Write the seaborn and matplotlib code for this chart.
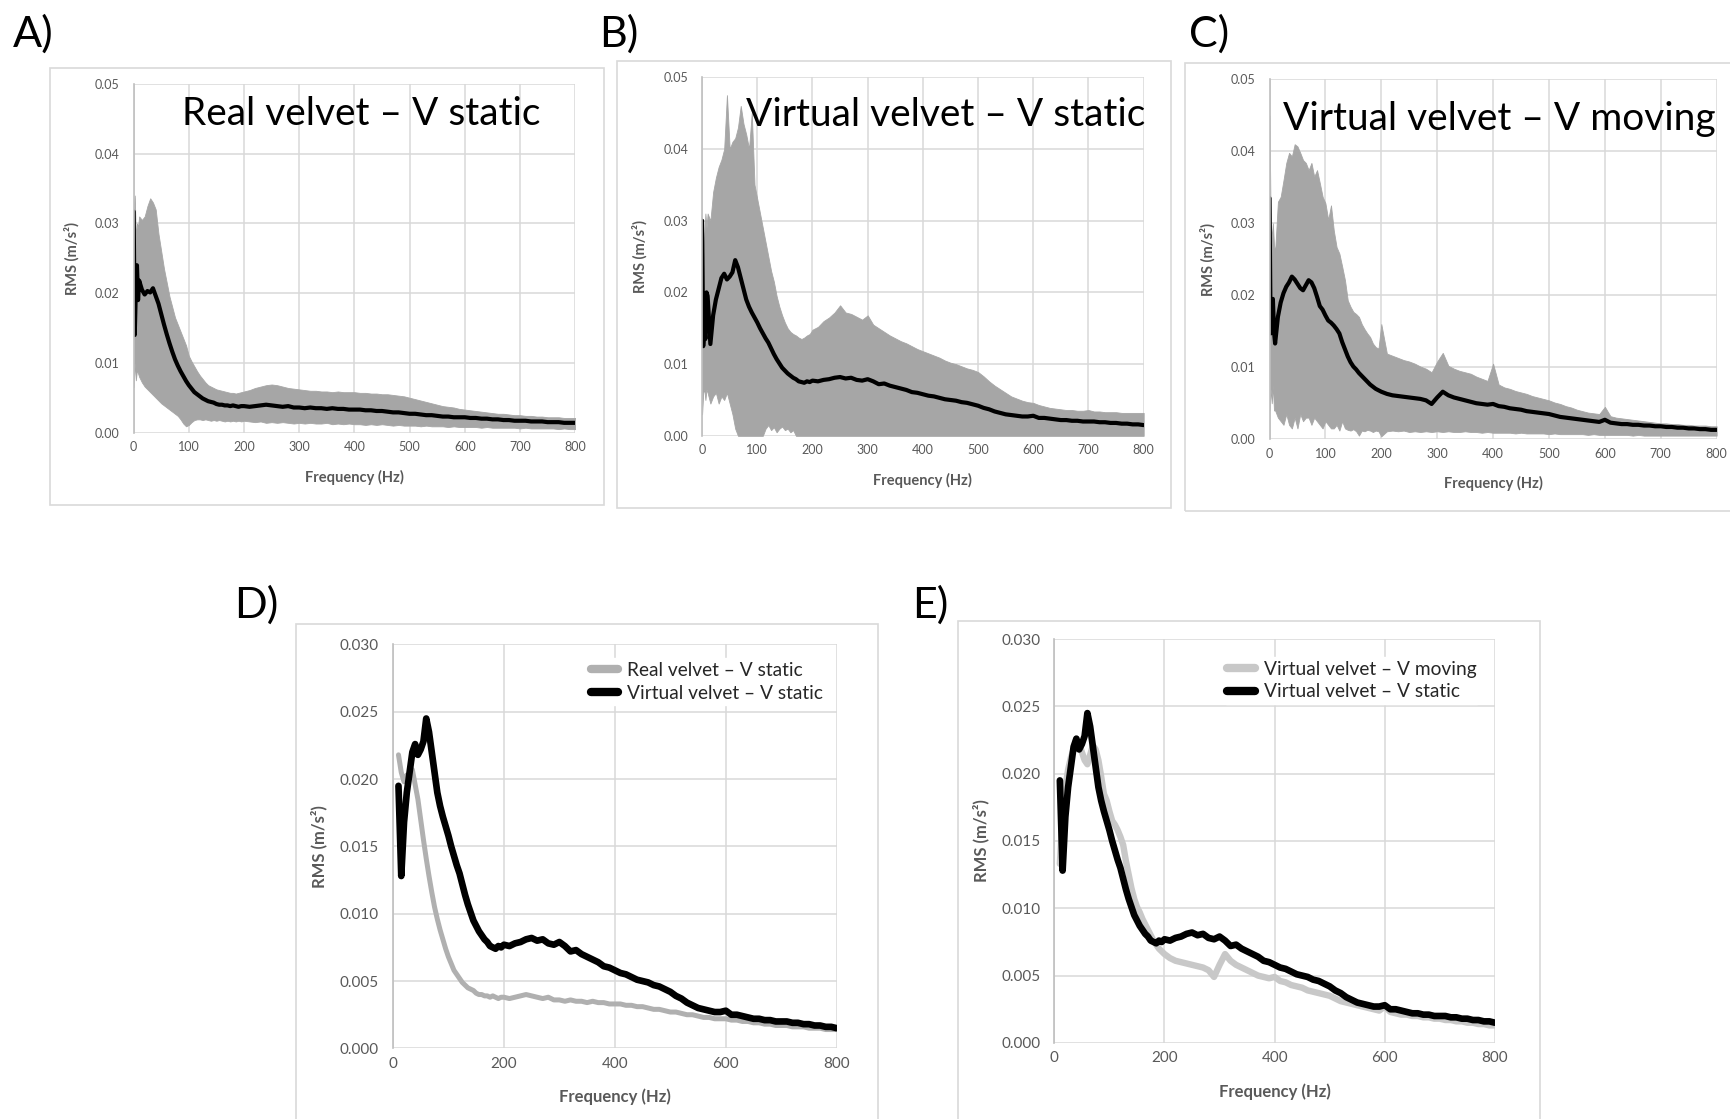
import numpy as np
import matplotlib
matplotlib.use("Agg")
import matplotlib.pyplot as plt
from matplotlib.patches import Rectangle
import seaborn as sns

# frequency grid (Hz): finer near 0
freq = np.concatenate([np.arange(0, 10, 2), np.arange(10, 200, 5), np.arange(200, 801, 10)])

# A) real velvet - V static: min / max band and mean
a_mean = [0.0317, 0.0140, 0.0205, 0.0240, 0.0190,
          0.0218, 0.0205, 0.0198, 0.0203, 0.0201, 0.0207, 0.0196, 0.0185, 0.0170, 0.0155,
          0.0141, 0.0128, 0.0116, 0.0105, 0.0096, 0.0088, 0.0081, 0.0074, 0.0068, 0.0063,
          0.0058, 0.0055, 0.0052, 0.0049, 0.0047, 0.0045, 0.0044, 0.0043, 0.0041, 0.0040,
          0.0040, 0.0039, 0.0039, 0.0038, 0.0039, 0.0038, 0.0037, 0.0038,
          0.0038, 0.0037, 0.0038, 0.0039, 0.0040, 0.0039, 0.0038, 0.0037, 0.0038, 0.0036,
          0.0036, 0.0035, 0.0036, 0.0035, 0.0035, 0.0034, 0.0035, 0.0034, 0.0034, 0.0033,
          0.0033, 0.0033, 0.0032, 0.0032, 0.0031, 0.0031, 0.0030, 0.0029, 0.0029, 0.0028,
          0.0027, 0.0027, 0.0026, 0.0025, 0.0025, 0.0024, 0.0023, 0.0023, 0.0022, 0.0022,
          0.0022, 0.0021, 0.0021, 0.0020, 0.0020, 0.0019, 0.0019, 0.0018, 0.0018, 0.0017,
          0.0017, 0.0017, 0.0016, 0.0016, 0.0016, 0.0015, 0.0015, 0.0015, 0.0014, 0.0014,
          0.0014]
a_hi = [0.0320, 0.0340, 0.0280, 0.0300, 0.0295,
        0.0310, 0.0305, 0.0310, 0.0325, 0.0336, 0.0330, 0.0320, 0.0285, 0.0260, 0.0235,
        0.0215, 0.0195, 0.0180, 0.0165, 0.0155, 0.0145, 0.0135, 0.0125, 0.0110, 0.0102,
        0.0095, 0.0088, 0.0082, 0.0077, 0.0072, 0.0068, 0.0066, 0.0064, 0.0062, 0.0061,
        0.0060, 0.0059, 0.0058, 0.0057, 0.0057, 0.0056, 0.0057, 0.0058,
        0.0059, 0.0061, 0.0064, 0.0066, 0.0068, 0.0069, 0.0068, 0.0066, 0.0064, 0.0063,
        0.0062, 0.0061, 0.0060, 0.0060, 0.0059, 0.0059, 0.0058, 0.0059, 0.0058, 0.0058,
        0.0058, 0.0057, 0.0057, 0.0056, 0.0056, 0.0055, 0.0055, 0.0054, 0.0053, 0.0052,
        0.0050, 0.0048, 0.0046, 0.0044, 0.0042, 0.0040, 0.0038, 0.0037, 0.0036, 0.0034,
        0.0033, 0.0032, 0.0031, 0.0030, 0.0029, 0.0028, 0.0027, 0.0027, 0.0026, 0.0025,
        0.0025, 0.0024, 0.0024, 0.0023, 0.0023, 0.0022, 0.0022, 0.0022, 0.0021, 0.0021,
        0.0021]
a_lo = [0.0065, 0.0100, 0.0075, 0.0090, 0.0085,
        0.0080, 0.0072, 0.0066, 0.0062, 0.0058, 0.0054, 0.0050, 0.0046, 0.0042, 0.0039,
        0.0036, 0.0033, 0.0030, 0.0027, 0.0024, 0.0019, 0.0013, 0.0009, 0.0011, 0.0015,
        0.0018, 0.0019, 0.0019, 0.0018, 0.0019, 0.0018, 0.0017, 0.0018, 0.0017, 0.0018,
        0.0017, 0.0016, 0.0017, 0.0016, 0.0017, 0.0016, 0.0017, 0.0016,
        0.0017, 0.0016, 0.0015, 0.0016, 0.0014, 0.0015, 0.0014, 0.0015, 0.0014, 0.0013,
        0.0014, 0.0013, 0.0014, 0.0013, 0.0013, 0.0014, 0.0012, 0.0013, 0.0012, 0.0013,
        0.0012, 0.0012, 0.0011, 0.0012, 0.0011, 0.0012, 0.0011, 0.0010, 0.0011, 0.0010,
        0.0010, 0.0010, 0.0009, 0.0010, 0.0009, 0.0009, 0.0009, 0.0008, 0.0009, 0.0008,
        0.0008, 0.0008, 0.0008, 0.0007, 0.0008, 0.0007, 0.0007, 0.0007, 0.0007, 0.0007,
        0.0006, 0.0007, 0.0006, 0.0006, 0.0006, 0.0006, 0.0006, 0.0005, 0.0006, 0.0005,
        0.0005]

# B) virtual velvet - V static
b_mean = [0.0300, 0.0125, 0.0150, 0.0135, 0.0200,
          0.0195, 0.0128, 0.0168, 0.0190, 0.0205, 0.0220, 0.0226, 0.0218, 0.0222, 0.0228,
          0.0245, 0.0235, 0.0220, 0.0205, 0.0190, 0.0180, 0.0172, 0.0165, 0.0158, 0.0150,
          0.0143, 0.0136, 0.0130, 0.0122, 0.0114, 0.0107, 0.0101, 0.0095, 0.0091, 0.0087,
          0.0084, 0.0081, 0.0079, 0.0076, 0.0075, 0.0074, 0.0076, 0.0075,
          0.0077, 0.0076, 0.0078, 0.0079, 0.0081, 0.0082, 0.0080, 0.0081, 0.0078, 0.0077,
          0.0079, 0.0076, 0.0072, 0.0073, 0.0070, 0.0068, 0.0066, 0.0064, 0.0061, 0.0060,
          0.0058, 0.0056, 0.0055, 0.0053, 0.0051, 0.0050, 0.0049, 0.0047, 0.0046, 0.0044,
          0.0042, 0.0039, 0.0037, 0.0034, 0.0032, 0.0030, 0.0029, 0.0028, 0.0027, 0.0027,
          0.0028, 0.0025, 0.0025, 0.0024, 0.0023, 0.0022, 0.0022, 0.0021, 0.0021, 0.0020,
          0.0020, 0.0020, 0.0019, 0.0019, 0.0018, 0.0018, 0.0017, 0.0017, 0.0016, 0.0016,
          0.0015]
b_hi = [0.0300, 0.0240, 0.0280, 0.0310, 0.0290,
        0.0310, 0.0300, 0.0340, 0.0360, 0.0375, 0.0385, 0.0400, 0.0475, 0.0400, 0.0410,
        0.0415, 0.0430, 0.0460, 0.0435, 0.0420, 0.0400, 0.0450, 0.0350, 0.0330, 0.0310,
        0.0290, 0.0270, 0.0250, 0.0230, 0.0215, 0.0195, 0.0180, 0.0168, 0.0158, 0.0150,
        0.0145, 0.0142, 0.0140, 0.0137, 0.0135, 0.0137, 0.0140, 0.0142,
        0.0148, 0.0152, 0.0160, 0.0165, 0.0172, 0.0182, 0.0172, 0.0170, 0.0166, 0.0162,
        0.0168, 0.0155, 0.0150, 0.0145, 0.0140, 0.0136, 0.0132, 0.0129, 0.0125, 0.0121,
        0.0118, 0.0115, 0.0112, 0.0109, 0.0105, 0.0102, 0.0100, 0.0097, 0.0094, 0.0092,
        0.0089, 0.0083, 0.0076, 0.0070, 0.0065, 0.0060, 0.0055, 0.0052, 0.0049, 0.0047,
        0.0046, 0.0043, 0.0041, 0.0039, 0.0038, 0.0037, 0.0036, 0.0036, 0.0035, 0.0035,
        0.0036, 0.0034, 0.0034, 0.0033, 0.0033, 0.0033, 0.0032, 0.0032, 0.0032, 0.0032,
        0.0032]
b_lo = [0.0030, 0.0060, 0.0065, 0.0050, 0.0065,
        0.0060, 0.0045, 0.0055, 0.0060, 0.0045, 0.0055, 0.0050, 0.0060, 0.0045, 0.0030,
        0.0010, 0.0000, 0.0000, 0.0000, 0.0000, 0.0000, 0.0000, 0.0000, 0.0000, 0.0000,
        0.0000, 0.0010, 0.0015, 0.0008, 0.0012, 0.0005, 0.0010, 0.0013, 0.0008, 0.0010,
        0.0005, 0.0008, 0.0000, 0.0000, 0.0000, 0.0000, 0.0000, 0.0000,
        0.0000, 0.0000, 0.0000, 0.0000, 0.0000, 0.0000, 0.0000, 0.0000, 0.0000, 0.0000,
        0.0000, 0.0000, 0.0000, 0.0000, 0.0000, 0.0000, 0.0000, 0.0000, 0.0000, 0.0000,
        0.0000, 0.0000, 0.0000, 0.0000, 0.0000, 0.0000, 0.0000, 0.0000, 0.0000, 0.0000,
        0.0000, 0.0000, 0.0000, 0.0000, 0.0000, 0.0000, 0.0000, 0.0000, 0.0000, 0.0000,
        0.0000, 0.0000, 0.0000, 0.0000, 0.0000, 0.0000, 0.0000, 0.0000, 0.0000, 0.0000,
        0.0000, 0.0000, 0.0000, 0.0000, 0.0000, 0.0000, 0.0000, 0.0000, 0.0000, 0.0000,
        0.0000]

# C) virtual velvet - V moving
c_mean = [0.0335, 0.0147, 0.0165, 0.0195, 0.0150,
          0.0133, 0.0170, 0.0190, 0.0203, 0.0212, 0.0218, 0.0226, 0.0222, 0.0216, 0.0210,
          0.0207, 0.0214, 0.0221, 0.0218, 0.0210, 0.0198, 0.0185, 0.0180, 0.0172, 0.0165,
          0.0162, 0.0158, 0.0153, 0.0147, 0.0135, 0.0125, 0.0115, 0.0107, 0.0101, 0.0097,
          0.0092, 0.0088, 0.0084, 0.0080, 0.0076, 0.0073, 0.0070, 0.0068,
          0.0066, 0.0063, 0.0061, 0.0060, 0.0059, 0.0058, 0.0057, 0.0056, 0.0054, 0.0049,
          0.0058, 0.0066, 0.0061, 0.0058, 0.0056, 0.0054, 0.0052, 0.0050, 0.0049, 0.0048,
          0.0049, 0.0046, 0.0045, 0.0043, 0.0042, 0.0041, 0.0039, 0.0038, 0.0037, 0.0036,
          0.0035, 0.0033, 0.0031, 0.0030, 0.0029, 0.0028, 0.0027, 0.0026, 0.0025, 0.0024,
          0.0027, 0.0023, 0.0022, 0.0021, 0.0021, 0.0020, 0.0020, 0.0019, 0.0019, 0.0018,
          0.0018, 0.0017, 0.0017, 0.0016, 0.0016, 0.0015, 0.0015, 0.0014, 0.0014, 0.0013,
          0.0013]
c_hi = [0.0450, 0.0300, 0.0280, 0.0300, 0.0270,
        0.0260, 0.0330, 0.0337, 0.0360, 0.0384, 0.0398, 0.0393, 0.0410, 0.0407, 0.0398,
        0.0388, 0.0384, 0.0374, 0.0384, 0.0365, 0.0374, 0.0356, 0.0337, 0.0328, 0.0305,
        0.0325, 0.0290, 0.0267, 0.0258, 0.0240, 0.0221, 0.0193, 0.0184, 0.0177, 0.0174,
        0.0170, 0.0160, 0.0153, 0.0147, 0.0142, 0.0133, 0.0128, 0.0126,
        0.0160, 0.0119, 0.0116, 0.0113, 0.0110, 0.0108, 0.0105, 0.0101, 0.0098, 0.0093,
        0.0108, 0.0120, 0.0102, 0.0098, 0.0095, 0.0093, 0.0091, 0.0087, 0.0084, 0.0081,
        0.0105, 0.0076, 0.0072, 0.0070, 0.0067, 0.0065, 0.0063, 0.0060, 0.0058, 0.0056,
        0.0054, 0.0051, 0.0049, 0.0046, 0.0044, 0.0041, 0.0039, 0.0037, 0.0036, 0.0035,
        0.0045, 0.0032, 0.0030, 0.0029, 0.0028, 0.0027, 0.0026, 0.0025, 0.0024, 0.0023,
        0.0022, 0.0022, 0.0021, 0.0021, 0.0020, 0.0020, 0.0019, 0.0019, 0.0019, 0.0018,
        0.0018]
c_lo = [0.0040, 0.0070, 0.0050, 0.0075, 0.0040,
        0.0040, 0.0030, 0.0025, 0.0020, 0.0035, 0.0020, 0.0015, 0.0030, 0.0015, 0.0035,
        0.0025, 0.0030, 0.0030, 0.0020, 0.0030, 0.0025, 0.0020, 0.0015, 0.0025, 0.0020,
        0.0015, 0.0015, 0.0020, 0.0012, 0.0025, 0.0015, 0.0013, 0.0012, 0.0014, 0.0011,
        0.0005, 0.0012, 0.0011, 0.0013, 0.0012, 0.0010, 0.0012, 0.0011,
        0.0004, 0.0011, 0.0012, 0.0011, 0.0012, 0.0010, 0.0011, 0.0010, 0.0011, 0.0010,
        0.0011, 0.0010, 0.0011, 0.0010, 0.0010, 0.0011, 0.0010, 0.0010, 0.0009, 0.0010,
        0.0009, 0.0009, 0.0009, 0.0009, 0.0008, 0.0009, 0.0008, 0.0008, 0.0008, 0.0008,
        0.0007, 0.0008, 0.0007, 0.0007, 0.0007, 0.0007, 0.0007, 0.0006, 0.0007, 0.0006,
        0.0006, 0.0006, 0.0006, 0.0006, 0.0006, 0.0005, 0.0006, 0.0005, 0.0005, 0.0005,
        0.0005, 0.0005, 0.0005, 0.0005, 0.0005, 0.0005, 0.0005, 0.0005, 0.0005, 0.0005,
        0.0005]

for arr in [a_mean, a_hi, a_lo, b_mean, b_hi, b_lo, c_mean, c_hi, c_lo]:
    assert len(arr) == len(freq), len(arr)

labels_top = ["Real velvet \u2013 V static", "Virtual velvet \u2013 V static", "Virtual velvet \u2013 V moving"]

sns.set_theme(style="white")
plt.rcParams["font.family"] = ["Lato", "DejaVu Sans"]

GRID = "#d9d9d9"
TXT = "#595959"
BAND = "#a6a6a6"

fig = plt.figure(figsize=(17.31, 11.19), dpi=100)


def style_axes(ax, ymax, ystep, yfmt, xstep, tsize, lsize, ypad, xpad):
    ax.set_xlim(0, 800)
    ax.set_ylim(0, ymax)
    ax.set_xticks(np.arange(0, 801, xstep))
    yt = np.arange(0, ymax + ystep / 2, ystep)
    ax.set_yticks(yt)
    ax.set_yticklabels([yfmt.format(v) for v in yt])
    ax.grid(True, color=GRID, lw=1.1)
    ax.set_axisbelow(True)
    for s in ["top", "right", "bottom"]:
        ax.spines[s].set_visible(False)
    ax.spines["left"].set_color("#bfbfbf")
    ax.spines["left"].set_linewidth(1.2)
    ax.tick_params(length=0, labelsize=tsize, labelcolor=TXT, pad=6)
    ax.tick_params(axis="y", pad=10)
    ax.set_xlabel("Frequency (Hz)", fontsize=lsize, fontweight="bold", color=TXT, labelpad=xpad)
    ax.set_ylabel("RMS (m/s\u00b2)", fontsize=lsize, fontweight="bold", color=TXT, labelpad=ypad)


def band_panel(rect, lo, hi, mean, title, tx, ty):
    ax = fig.add_axes(rect)
    ax.fill_between(freq, lo, hi, color=BAND, lw=0.6, edgecolor=BAND)
    sns.lineplot(x=freq, y=mean, ax=ax, color="black", lw=3.0, estimator=None, sort=False)
    style_axes(ax, 0.05, 0.01, "{:.2f}", 100, 9, 10.5, 11, 12)
    ax.text(tx, ty, title, transform=ax.transAxes, fontsize=28, color="black",
            ha="left", va="center", zorder=10)
    return ax


band_panel([0.0772, 0.6134, 0.2551, 0.3116], a_lo, a_hi, a_mean, labels_top[0], 0.11, 0.915)
band_panel([0.4056, 0.6105, 0.2551, 0.3205], b_lo, b_hi, b_mean, labels_top[1], 0.10, 0.895)
band_panel([0.7334, 0.6075, 0.2583, 0.3215], c_lo, c_hi, c_mean, labels_top[2], 0.03, 0.89)

# comparison panels start at 10 Hz
sub = freq >= 10


def compare_panel(rect, first, second, names, first_color, first_lw, anchor):
    ax = fig.add_axes(rect)
    sns.lineplot(x=freq[sub], y=np.array(first)[sub], ax=ax, color=first_color, lw=first_lw,
                 estimator=None, sort=False, label=names[0])
    sns.lineplot(x=freq[sub], y=np.array(second)[sub], ax=ax, color="black", lw=4.8,
                 estimator=None, sort=False, label=names[1])
    style_axes(ax, 0.03, 0.005, "{:.3f}", 200, 11, 12, 9, 13)
    leg = ax.legend(loc="upper left", bbox_to_anchor=anchor, fontsize=13.8, frameon=True,
                    facecolor="white", edgecolor="white", framealpha=1, handlelength=1.45,
                    handletextpad=0.45, labelspacing=0.3, borderpad=0.2)
    for line in leg.get_lines():
        line.set_linewidth(6)
    return ax


compare_panel([0.2270, 0.0631, 0.2564, 0.3610], a_mean, b_mean,
              [labels_top[0], labels_top[1]], "#b0b0b0", 3.6, (0.415, 0.99))
compare_panel([0.6091, 0.0680, 0.2545, 0.3609], c_mean, b_mean,
              [labels_top[2], labels_top[1]], "#c8c8c8", 4.6, (0.362, 0.98))

# light frames around each sub-chart
for x0, y0, w, h in [(0.0287, 0.5483, 0.3202, 0.3905), (0.3565, 0.5464, 0.3202, 0.3994),
                     (0.6843, 0.5434, 0.3200, 0.4004), (0.1709, -0.010, 0.3361, 0.4528),
                     (0.5536, -0.010, 0.3361, 0.4548)]:
    fig.patches.append(Rectangle((x0, y0), w, h, transform=fig.transFigure, fill=False,
                                 edgecolor=GRID, lw=1.2))

for lab, x, y in [("A)", 0.0077, 0.970), ("B)", 0.3463, 0.970), ("C)", 0.6869, 0.970),
                  ("D)", 0.1352, 0.4596), ("E)", 0.5268, 0.4596)]:
    fig.text(x, y, lab, fontsize=31, color="black", ha="left", va="center")

fig.savefig("out.png", dpi=100)
